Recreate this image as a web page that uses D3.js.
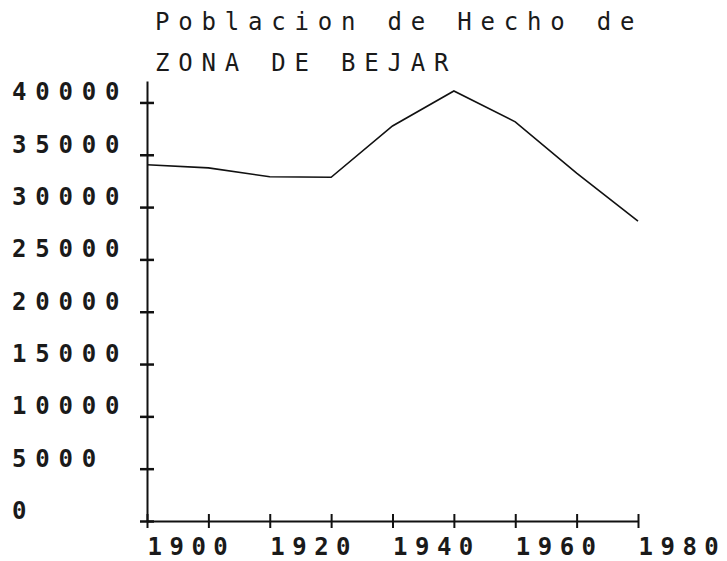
<!DOCTYPE html>
<html>
<head>
<meta charset="utf-8">
<script src="https://cdn.jsdelivr.net/npm/d3@7"></script>
<style>
  body { margin: 0; background: #fff; }
  svg text { font-family: "DejaVu Sans Mono", monospace; font-size: 24px; letter-spacing: 8.8px; fill: #1a1a1a; }
</style>
</head>
<body>
<svg width="727" height="561"></svg>
<script>
var svg = d3.select("svg");

// census years and population
var years = [1900, 1910, 1920, 1930, 1940, 1950, 1960, 1970, 1980];
var population = [34050, 33750, 32900, 32850, 37750, 41100, 38150, 33250, 28650];
var yTicks = [0, 5000, 10000, 15000, 20000, 25000, 30000, 35000, 40000];
var xTicks = [1900, 1910, 1920, 1930, 1940, 1950, 1960, 1970, 1980];
var xLabels = [1900, 1920, 1940, 1960, 1980];
var titleLines = ["Poblacion de Hecho de", "ZONA DE BEJAR"];

var x = d3.scaleLinear().domain([1900, 1980]).range([147, 638]);
var y = d3.scaleLinear().domain([0, 42050]).range([521, 81]);

// title
svg.selectAll(".title")
  .data(titleLines)
  .enter().append("text")
    .attr("class", "title")
    .attr("x", 155)
    .attr("y", function(d, i) { return 30 + i * 41; })
    .text(function(d) { return d; });

// y axis, ticks cross the line
var yAxis = svg.append("g")
  .attr("transform", "translate(" + x(1900) + ",0)")
  .call(d3.axisLeft(y).tickValues(yTicks).tickSize(14).tickSizeOuter(0).tickFormat(d3.format("d")));
yAxis.attr("font-size", null).attr("font-family", null);
yAxis.select(".domain").attr("stroke", "#111").attr("stroke-width", 2);
yAxis.selectAll(".tick line").attr("x1", 7).attr("x2", -7).attr("stroke", "#111").attr("stroke-width", 2.5);
yAxis.selectAll(".tick text")
  .attr("x", 12 - x(1900))
  .attr("y", 0)
  .attr("dy", -2.5)
  .attr("text-anchor", "start")
  .style("font-weight", "bold")
  .each(function() { this.removeAttribute("fill"); });

// x axis
var xAxis = svg.append("g")
  .attr("transform", "translate(0," + y(0) + ")")
  .call(d3.axisBottom(x).tickValues(xTicks).tickSize(14).tickSizeOuter(0)
    .tickFormat(function(d) { return xLabels.indexOf(d) >= 0 ? d : ""; }));
xAxis.attr("font-size", null).attr("font-family", null);
xAxis.select(".domain").attr("stroke", "#111").attr("stroke-width", 2);
xAxis.selectAll(".tick line").attr("y1", -7).attr("y2", 7).attr("stroke", "#111").attr("stroke-width", 2);
xAxis.selectAll(".tick text")
  .attr("x", 0)
  .attr("y", 34)
  .attr("dy", null)
  .attr("text-anchor", "start")
  .style("font-weight", "bold")
  .style("letter-spacing", "7.5px")
  .each(function() { this.removeAttribute("fill"); });

// population line
var line = d3.line()
  .x(function(d, i) { return x(years[i]); })
  .y(function(d) { return y(d); });

svg.append("path")
  .datum(population)
  .attr("d", line)
  .attr("fill", "none")
  .attr("stroke", "#111")
  .attr("stroke-width", 1.6);
</script>
</body>
</html>
